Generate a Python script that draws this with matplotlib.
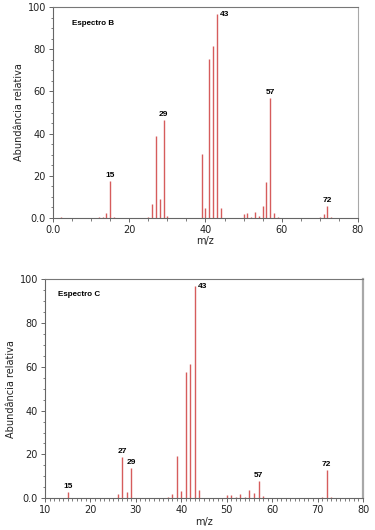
import matplotlib
matplotlib.use('Agg')
from matplotlib import pyplot as plt
from matplotlib.ticker import MultipleLocator, FixedLocator

### Spectrum B (m/z, relative abundance)
mz_b = [2, 12, 13, 14, 15, 16, 25, 26, 27, 28, 29, 30,
        39, 40, 41, 42, 43, 44, 50, 51, 52, 53, 54, 55,
        56, 57, 58, 59, 70, 71, 72, 73]
ab_b = [0.5, 0.5, 0.7, 2.4, 17.7, 0.7, 0.5, 6.6, 38.7, 9.1, 46.6, 1.0,
        30.5, 4.7, 75.5, 81.7, 96.5, 4.5, 2.0, 2.4, 0.7, 2.9, 0.8, 5.8,
        16.9, 56.9, 2.5, 0.3, 0.3, 1.8, 5.6, 0.3]
labels_b = [15, 29, 43, 57, 72]

### Spectrum C
mz_c = [15, 26, 27, 28, 29, 37, 38, 39, 40, 41, 42, 43, 44,
        50, 51, 52, 53, 54, 55, 56, 57, 58, 71, 72, 73]
ab_c = [2.9, 2.0, 19.0, 2.7, 13.7, 0.8, 2.0, 19.3, 3.2, 57.5, 61.2, 96.6, 3.9,
        1.4, 1.6, 0.6, 1.9, 0.6, 3.6, 2.3, 8.0, 0.9, 0.7, 12.9, 0.6]
labels_c = [15, 27, 29, 43, 57, 72]

line_color = '#d65c5c'
spine_dark = '#666666'
spine_light = '#a8a8a8'

fig = plt.figure(figsize=(3.75, 5.3), dpi=100)

def draw_spectrum(ax, mz, ab, labels, title, xlim, xticks, xticklabels,
                  xminor, title_pos, right_width):
    ax.vlines(mz, 0, ab, color=line_color, linewidth=1.0)
    ax.set_xlim(*xlim)
    ax.set_ylim(0, 100)

    ax.xaxis.set_major_locator(FixedLocator(xticks))
    ax.set_xticklabels(xticklabels)
    ax.xaxis.set_minor_locator(MultipleLocator(xminor))
    ax.yaxis.set_major_locator(FixedLocator([0, 20, 40, 60, 80, 100]))
    ax.set_yticklabels(['0.0', '20', '40', '60', '80', '100'])
    ax.yaxis.set_minor_locator(MultipleLocator(5))

    ax.tick_params(axis='both', which='major', labelsize=7, length=3,
                   width=0.7, color=spine_dark, pad=2, labelcolor='#222222')
    ax.tick_params(axis='both', which='minor', length=1.8, width=0.6,
                   color=spine_dark)

    ax.spines['left'].set_color(spine_dark)
    ax.spines['bottom'].set_color(spine_dark)
    ax.spines['top'].set_color('#777777')
    ax.spines['right'].set_color(spine_light)
    for s in ax.spines.values():
        s.set_linewidth(0.8)
    ax.spines['right'].set_linewidth(right_width)

    ax.set_xlabel('m/z', fontsize=7, labelpad=1, color='#222222')
    ax.set_ylabel('Abundância relativa', fontsize=7, labelpad=3, color='#222222')

    ax.text(title_pos[0], title_pos[1], title, transform=ax.transAxes,
            fontsize=5.8, fontweight='bold', family='Liberation Sans',
            va='center', ha='left')

    # peak labels
    for m in labels:
        h = ab[mz.index(m)]
        if m == 43:
            ax.annotate(str(m), (m, h), xytext=(2, 0), textcoords='offset points',
                        fontsize=6, fontweight='bold', family='Liberation Sans',
                        ha='left', va='center')
        else:
            ax.annotate(str(m), (m, h), xytext=(0, 1.5), textcoords='offset points',
                        fontsize=6, fontweight='bold', family='Liberation Sans',
                        ha='center', va='bottom')

ax_b = fig.add_axes([0.1413, 0.5887, 0.8133, 0.398])
draw_spectrum(ax_b, mz_b, ab_b, labels_b, 'Espectro B', (0, 80),
              [0, 20, 40, 60, 80], ['0.0', '20', '40', '60', '80'], 5,
              (0.062, 0.924), 0.8)

ax_c = fig.add_axes([0.12, 0.0598, 0.848, 0.4138])
draw_spectrum(ax_c, mz_c, ab_c, labels_c, 'Espectro C', (10, 80),
              [10, 20, 30, 40, 50, 60, 70, 80],
              ['10', '20', '30', '40', '50', '60', '70', '80'], 1,
              (0.041, 0.93), 1.6)

plt.savefig('out.png', dpi=100)
